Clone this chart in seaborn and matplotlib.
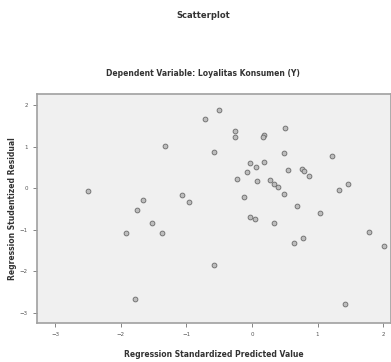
import pandas as pd
import seaborn as sns
import matplotlib.pyplot as plt

# Werte
predicted = [-1.32, -2.50, -1.67, -1.75, -1.07, -0.96, -1.53, -1.92, -1.38, -1.78,
             -0.50, -0.72, -0.26, -0.26, 0.18, 0.17, 0.51, -0.58, 0.49, 1.22,
             -0.03, 0.19, 0.06, -0.08, 0.55, 0.76, 0.79, 0.87, -0.23, 0.07,
             0.28, 0.34, 0.39, 0.49, 1.46, 1.33, -0.12, 0.69, 1.04, -0.03,
             0.04, 0.33, 1.78, 2.02, 0.64, 0.78, -0.58, 1.42]
residual = [1.02, -0.07, -0.29, -0.53, -0.17, -0.33, -0.84, -1.07, -1.07, -2.68,
            1.88, 1.66, 1.38, 1.24, 1.28, 1.24, 1.45, 0.86, 0.84, 0.78,
            0.61, 0.63, 0.50, 0.39, 0.45, 0.46, 0.42, 0.30, 0.23, 0.17,
            0.20, 0.10, 0.02, -0.13, 0.11, -0.04, -0.22, -0.43, -0.59, -0.69,
            -0.75, -0.83, -1.05, -1.40, -1.32, -1.20, -1.84, -2.78]
x_ticks = [-3, -2, -1, 0, 1, 2]
y_ticks = [-3, -2, -1, 0, 1, 2]

df = pd.DataFrame({'pred': predicted, 'resid': residual})

sns.set_style('white')
fig = plt.figure(figsize=(3.91, 3.62), dpi=100)
ax = fig.add_axes([37 / 391, 39 / 362, 354 / 391, 229 / 362])
ax.set_facecolor('#f0f0f0')

sns.scatterplot(data=df, x='pred', y='resid', ax=ax, s=12,
                color='#bdbdbd', edgecolor='#6a6a6a', linewidth=0.6)

ax.set_xlim(-3.28, 2.12)
ax.set_ylim(-3.25, 2.27)
ax.set_xticks(x_ticks)
ax.set_yticks(y_ticks)
ax.tick_params(axis='both', labelsize=4, colors='#555555', length=3, width=0.5,
               direction='out', bottom=True, left=True)
ax.set_xlabel('Regression Standardized Predicted Value', fontsize=5.5,
              fontweight='bold', color='#333333', labelpad=9)
ax.set_ylabel('Regression Studentized Residual', fontsize=5.5,
              fontweight='bold', color='#333333', labelpad=2)

for side in ['left', 'bottom', 'top', 'right']:
    ax.spines[side].set_color('#a0a0a0')
    ax.spines[side].set_linewidth(1.2)

fig.text(0.52, 0.95, 'Scatterplot', ha='center', fontsize=6, fontweight='bold',
         color='#333333')
fig.text(0.52, 0.79, 'Dependent Variable: Loyalitas Konsumen (Y)', ha='center',
         fontsize=5.5, fontweight='bold', color='#333333')

plt.savefig('out.png', dpi=100)
